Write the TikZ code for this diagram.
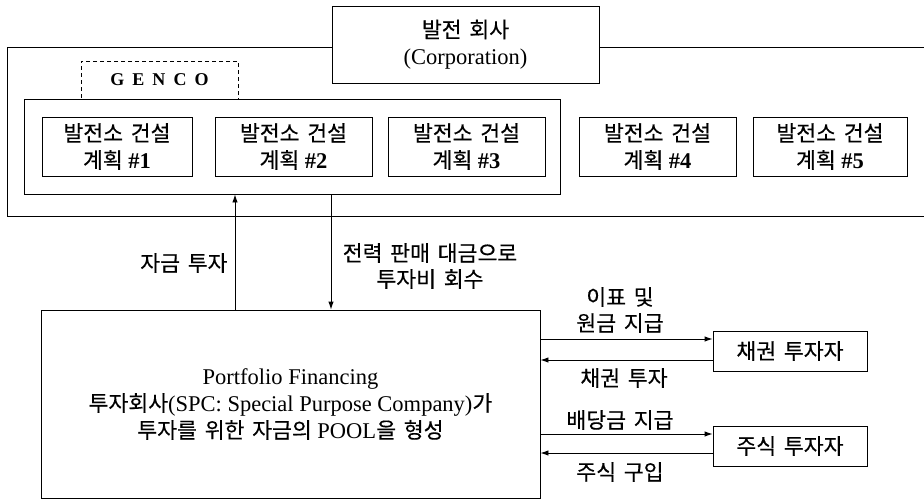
\documentclass[tikz,border=0pt]{standalone}
\usepackage{fontspec}
\setmainfont{Liberation Serif}
\newfontfamily\kr[Scale=0.96,FakeBold=0.4,WordSpace={1.6}]{Noto Sans CJK KR}
\newcommand\kor[1]{{\kr #1}}
\usetikzlibrary{arrows.meta}
\begin{document}
\begin{tikzpicture}[x=1pt,y=-1pt,line width=0.9pt,
  box/.style={draw,fill=white,inner sep=0pt,align=center,font=\fontsize{22.5}{27}\selectfont},
  plant/.style={box,minimum width=155pt,minimum height=59pt},
  inv/.style={box,minimum width=154pt,minimum height=40pt},
  lbl/.style={inner sep=0pt,align=center,font=\fontsize{22.5}{26}\selectfont},
  arr/.style={-{Latex[length=8pt,width=5.5pt]}}]
\useasboundingbox (0,0) rectangle (924,501);
% outer corporation frame (open to the right)
\coordinate (otl) at (924,47);
\coordinate (obl) at (924,216);
\draw (otl) -- (7,47) -- (7,216) -- (obl);
\node[box,minimum width=267pt,minimum height=77pt] (corp) at (465.5,44.5)
  {\kor{발전 회사}\\(Corporation)};
% GENCO
\node[draw,dashed,dash pattern=on 4pt off 3pt,inner sep=0pt,minimum width=157pt,minimum height=38pt,
  font=\fontsize{18}{22}\selectfont\bfseries\addfontfeature{LetterSpace=45}] (gencolabel) at (159.5,80) {GENCO};
\node[draw,inner sep=0pt,minimum width=536pt,minimum height=95pt] (genco) at (292,146.5) {};
\node[plant,minimum width=150pt] (p1) at (117,146.5) {\kor{발전소 건설}\\\kor{계획} \textbf{\#1}};
\node[plant,minimum width=157pt] (p2) at (293.5,146.5) {\kor{발전소 건설}\\\kor{계획} \textbf{\#2}};
\node[plant,minimum width=157pt] (p3) at (466.5,146.5) {\kor{발전소 건설}\\\kor{계획} \textbf{\#3}};
\node[plant,minimum width=157pt] (p4) at (657.5,146.5) {\kor{발전소 건설}\\\kor{계획} \textbf{\#4}};
\node[plant,minimum width=154pt] (p5) at (830,146.5) {\kor{발전소 건설}\\\kor{계획} \textbf{\#5}};
% SPC
\node[box,minimum width=499pt,minimum height=188pt] (spc) at (290.5,404)
  {Portfolio Financing\\\kor{투자회사}(SPC: Special Purpose Company)\kor{가}\\\kor{투자를 위한 자금의} POOL\kor{을 형성}};
\node[inv] (bond) at (790,351) {\kor{채권 투자자}};
\node[inv] (stock) at (790,446) {\kor{주식 투자자}};
% vertical arrows
\coordinate (xa) at (235,0);
\coordinate (xb) at (331,0);
\draw[arr] (spc.north -| xa) -- (genco.south -| xa);
\draw[arr] (genco.south -| xb) -- (spc.north -| xb);
\node[lbl,anchor=east] (l1) at (228,263) {\kor{자금 투자}};
\node[lbl] (l2) at (430,266) {\kor{전력 판매 대금으로}\\\kor{투자비 회수}};
% horizontal arrows
\coordinate (y1) at (0,339);
\coordinate (y2) at (0,360);
\coordinate (y3) at (0,434);
\coordinate (y4) at (0,453);
\draw[arr] (spc.east |- y1) -- (bond.west |- y1);
\draw[arr] (bond.west |- y2) -- (spc.east |- y2);
\draw[arr] (spc.east |- y3) -- (stock.west |- y3);
\draw[arr] (stock.west |- y4) -- (spc.east |- y4);
\node[lbl] (l3) at (620,310) {\kor{이표 및}\\\kor{원금 지급}};
\node[lbl] (l4) at (624,378) {\kor{채권 투자}};
\node[lbl] (l5) at (620,420) {\kor{배당금 지급}};
\node[lbl] (l6) at (620,472) {\kor{주식 구입}};
\end{tikzpicture}
\end{document}
